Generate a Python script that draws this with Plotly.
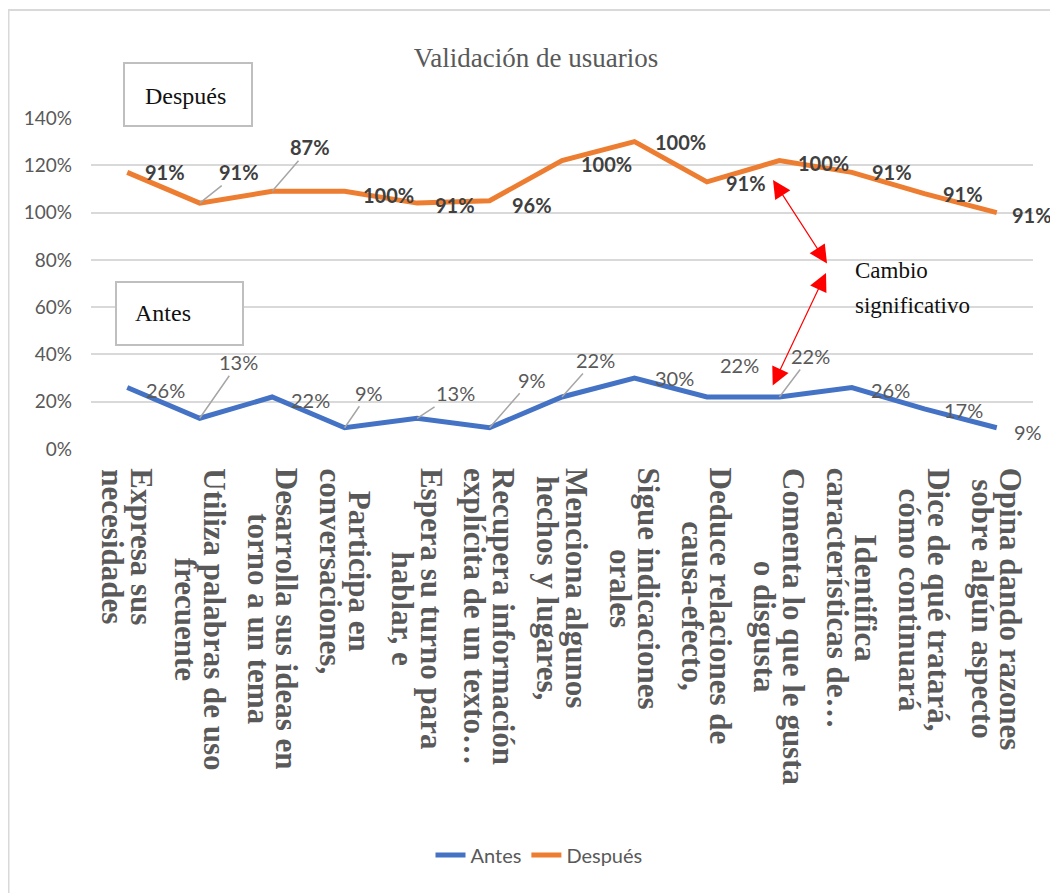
import plotly.graph_objects as go

categories = [
    "Expresa sus<br>necesidades",
    "Utiliza palabras de uso<br>frecuente",
    "Desarrolla sus ideas en<br>torno a un tema",
    "Participa en<br>conversaciones,",
    "Espera su turno para<br>hablar, e",
    "Recupera información<br>explícita de un texto…",
    "Menciona algunos<br>hechos y lugares,",
    "Sigue indicaciones<br>orales",
    "Deduce relaciones de<br>causa-efecto,",
    "Comenta lo que le gusta<br>o disgusta",
    "Identifica<br>características de…",
    "Dice de qué tratará,<br>cómo continuará",
    "Opina dando razones<br>sobre algún aspecto",
]
antes = [26, 13, 22, 9, 13, 9, 22, 30, 22, 22, 26, 17, 9]
despues = [91, 91, 87, 100, 91, 96, 100, 100, 91, 100, 91, 91, 91]

# stacked line (Excel style): Después sits on top of Antes
despues_top = [a + d for a, d in zip(antes, despues)]

# label offsets in px (dx, dy down) and whether a leader line is drawn
off_despues = [(38, 0, 0), (39, -31, 1), (38, -44, 1), (44, 4, 0), (38, 2, 0), (42, 4, 0), (44, 3, 0),
               (46, 0, 0), (39, 1, 0), (44, 2, 0), (40, 0, 0), (39, 0, 0), (35, 2, 0)]
off_antes = [(38, 2, 0), (39, -56, 1), (38, 3, 0), (24, -35, 1), (38, -25, 1), (42, -48, 1), (33, -37, 1),
             (40, 0, 0), (33, -32, 0), (31, -41, 1), (39, 2, 0), (39, 1, 0), (31, 4, 0)]

BLUE = "#4472C4"
ORANGE = "#ED7D31"
GRAY = "#595959"
SANS = "Lato, Liberation Sans, sans-serif"
SERIF = "Liberation Serif, Times New Roman, serif"

# the page body adds an 8px margin, so the figure is drawn 8px smaller
PAGE = 8
W, H = 1058 - PAGE, 893 - PAGE
PL, PR, PT, PB = 91, 1033, 118, 449   # plot area in page pixels


def px_x(px):
    return (px - PL) / (PR - PL)


def px_y(py):
    return (PB - py) / (PB - PT)


def big(txt, size):
    # tight line spacing (from the base font) with larger glyphs
    return "<br>".join(f"<span style='font-size:{size}px'>{p}</span>" for p in txt.split("<br>"))


fig = go.Figure()
fig.add_trace(go.Scatter(x=categories, y=antes, name="Antes", mode="lines",
                         line=dict(color=BLUE, width=5), hoverinfo="skip"))
fig.add_trace(go.Scatter(x=categories, y=despues_top, name="Después", mode="lines",
                         line=dict(color=ORANGE, width=5), hoverinfo="skip"))

ann = []


def data_labels(ys, vals, offs, font):
    for c, y, v, (dx, dy, lead) in zip(categories, ys, vals, offs):
        a = dict(x=c, y=y, xref="x", yref="y", text=f"{v}%", font=font)
        if lead:
            a.update(showarrow=True, arrowhead=0, arrowwidth=1.5, arrowcolor="#a6a6a6",
                     ax=dx, ay=dy, standoff=0)
        else:
            a.update(showarrow=False, xshift=dx, yshift=-dy)
        ann.append(a)


data_labels(despues_top, despues, off_despues,
            dict(family=SANS, size=20, color="#404040", weight="bold"))
data_labels(antes, antes, off_antes, dict(family=SANS, size=20, color=GRAY))

# rotated category labels
for c in categories:
    ann.append(dict(x=c, y=px_y(466), xref="x", yref="paper", text=big(c, 31), textangle=90,
                    showarrow=False, xanchor="center", yanchor="top", align="center",
                    font=dict(family=SERIF, size=22, color=GRAY, weight="bold")))

# text boxes
ann.append(dict(x=px_x(143), y=px_y(96), xref="paper", yref="paper", text="Después",
                showarrow=False, xanchor="left", yanchor="middle",
                font=dict(family=SERIF, size=24, color="#111111")))
ann.append(dict(x=px_x(133), y=px_y(313), xref="paper", yref="paper", text="Antes",
                showarrow=False, xanchor="left", yanchor="middle",
                font=dict(family=SERIF, size=24, color="#111111")))
ann.append(dict(x=px_x(853), y=px_y(288), xref="paper", yref="paper",
                text=big("Cambio<br>significativo", 23), showarrow=False, xanchor="left",
                yanchor="middle", align="left",
                font=dict(family=SERIF, size=27, color="#111111")))

# red double-headed arrows
for hx, hy, tx, ty in [(773, 180, 828, 265), (826, 273, 772, 387)]:
    ann.append(dict(x=px_x(hx), y=px_y(hy), xref="paper", yref="paper", text="",
                    showarrow=True, arrowhead=2, arrowside="end+start", arrowsize=3,
                    arrowwidth=1.2, arrowcolor="#ff0000", ax=tx - hx, ay=ty - hy))

shapes = [
    dict(type="rect", xref="paper", yref="paper", x0=px_x(124), x1=px_x(252),
         y0=px_y(126), y1=px_y(63), line=dict(color="#bfbfbf", width=2), fillcolor="white"),
    dict(type="rect", xref="paper", yref="paper", x0=px_x(116), x1=px_x(243),
         y0=px_y(345), y1=px_y(282), line=dict(color="#bfbfbf", width=2), fillcolor="white"),
    dict(type="line", xref="paper", yref="paper", x0=px_x(8), x1=px_x(1060),
         y0=px_y(10), y1=px_y(10), line=dict(color="#d9d9d9", width=2)),
    dict(type="line", xref="paper", yref="paper", x0=px_x(8.5), x1=px_x(8.5),
         y0=px_y(10), y1=px_y(895), line=dict(color="#d9d9d9", width=2)),
]

fig.update_layout(
    width=W, height=H,
    margin=dict(l=PL - PAGE, r=W - (PR - PAGE), t=PT - PAGE, b=H - (PB - PAGE)),
    paper_bgcolor="white", plot_bgcolor="white",
    title=dict(text="Validación de usuarios", x=(536 - PAGE) / W, xanchor="center",
               y=1 - (58 - PAGE) / H, yanchor="middle",
               font=dict(family=SERIF, size=27, color=GRAY)),
    xaxis=dict(type="category", showgrid=False, showticklabels=False, showline=False,
               zeroline=False, range=[-0.5, len(categories) - 0.5]),
    yaxis=dict(range=[0, 140], dtick=20, ticksuffix="%", showgrid=True, gridcolor="#d9d9d9",
               gridwidth=1.5, zeroline=False, showline=False, ticklabelstandoff=18,
               tickfont=dict(family=SANS, size=19, color=GRAY)),
    legend=dict(orientation="h", x=px_x(539), xanchor="center", y=px_y(855), yanchor="middle",
                font=dict(family=SANS, size=20, color=GRAY)),
    annotations=ann,
    shapes=shapes,
)

fig.write_html("out.html")
